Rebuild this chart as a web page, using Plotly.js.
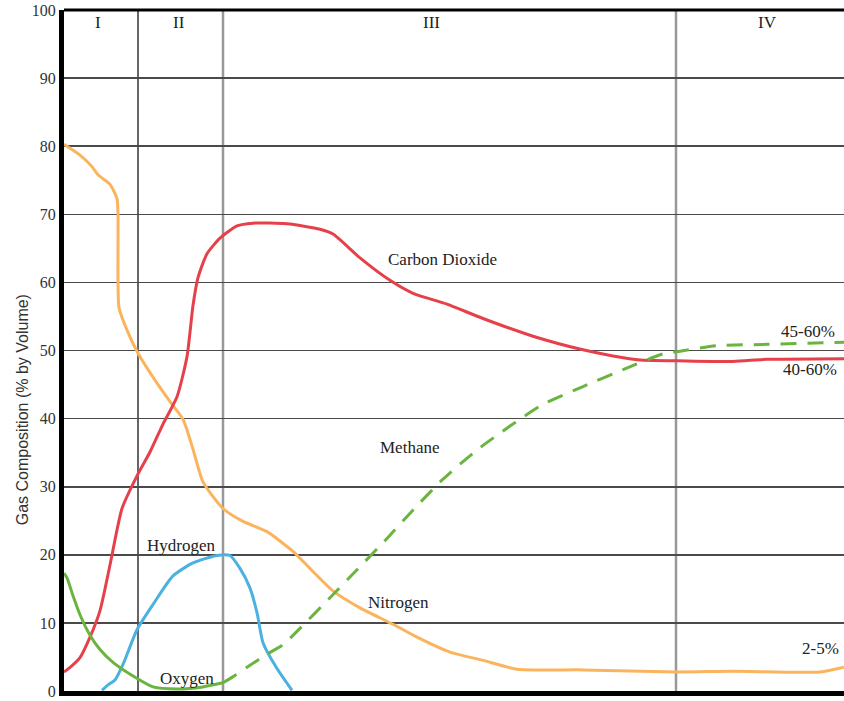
<!DOCTYPE html>
<html>
<head>
<meta charset="utf-8">
<script src="https://cdn.plot.ly/plotly-3.0.1.min.js"></script>
<style>html,body{margin:0;padding:0;background:#fff;}#chart{width:844px;height:701px;}</style>
</head>
<body>
<div id="chart"></div>
<script>
// Time axis (arbitrary units across phases)
const nitrogenX = [0,16,28,34,46,53,54,54,55,63,74,89,106,119,129,139,159,179,203,229,246,269,296,329,353,386,419,453,519,613,669,756,780];
const nitrogenY = [80.3,78.7,77.0,75.8,74.4,72.3,70.0,60.3,56.3,53.0,49.6,46.1,42.5,39.9,35.5,30.7,26.8,24.9,23.4,20.5,18.0,14.7,12.2,9.8,7.9,5.7,4.5,3.2,3.1,2.8,2.9,2.8,3.5];

const co2X = [0,3,16,26,36,46,58,73,86,99,113,123,129,134,143,156,173,189,223,256,269,296,326,349,383,419,469,519,549,576,613,669,703,780];
const co2Y = [2.8,3.1,4.9,7.9,11.8,18.5,26.8,31.6,35.1,39.2,43.2,49.1,56.6,60.7,64.2,66.5,68.3,68.7,68.6,67.8,67.1,63.6,60.3,58.4,56.8,54.7,52.1,50.1,49.2,48.6,48.5,48.4,48.7,48.8];

const hydrogenX = [38,44,51,59,73,89,109,129,153,166,176,186,193,199,213,228];
const hydrogenY = [0.1,0.9,1.6,3.9,9.0,12.7,16.9,18.8,19.9,19.9,18.0,15.1,11.5,7.1,3.3,0.1];

const oxygenX = [0,3,9,16,26,36,49,69,89,113,139,159];
const oxygenY = [17.3,16.6,14.0,11.2,8.2,6.1,4.2,2.2,0.6,0.3,0.6,1.2];

const methaneX = [159,168,183,203,219,236,266,293,323,353,379,413,446,479,519,559,599,616,653,703,780];
const methaneY = [1.2,2.0,3.5,5.4,6.8,9.2,13.7,17.8,22.4,27.2,31.1,35.4,38.9,42.1,44.7,47.2,49.5,49.9,50.7,50.9,51.2];

const phaseBounds = [74, 159, 612];
const phaseNames = ['I', 'II', 'III', 'IV'];
const phaseLabelX = [34, 115, 367, 703];

const yTicks = [0,10,20,30,40,50,60,70,80,90,100];

const serif = 'Liberation Serif, Times New Roman, serif';
const txtColor = '#222';

function line(x, y, color, dash) {
  return {x: x, y: y, type: 'scatter', mode: 'lines',
    line: {color: color, width: 3, shape: 'spline', smoothing: 0.6, dash: dash || 'solid'},
    hoverinfo: 'skip', showlegend: false};
}

const data = [
  line(nitrogenX, nitrogenY, '#FBB45E'),
  line(co2X, co2Y, '#E6404A'),
  line(hydrogenX, hydrogenY, '#4AB1E0'),
  line(oxygenX, oxygenY, '#6AB43F'),
  line(methaneX, methaneY, '#6AB43F', '16px,11px')
];

const shapes = [];
phaseBounds.forEach((b, i) => {
  shapes.push({type: 'line', xref: 'x', yref: 'paper', x0: b, x1: b, y0: 0, y1: 1,
    line: {color: i === 0 ? '#333' : '#999', width: i === 0 ? 1.5 : 2.5}, layer: 'below'});
});
shapes.push({type: 'line', xref: 'paper', yref: 'paper', x0: 0, x1: 1, y0: 1, y1: 1,
  line: {color: '#000', width: 3}});

const annotations = [];
phaseNames.forEach((n, i) => {
  annotations.push({x: phaseLabelX[i], y: 98.1, xref: 'x', yref: 'y', text: n, showarrow: false,
    font: {family: serif, size: 17, color: txtColor}});
});
const labels = [
  ['Carbon Dioxide', 378, 63.3],
  ['Methane', 345, 35.8],
  ['Hydrogen', 117, 21.3],
  ['Nitrogen', 334, 13.0],
  ['Oxygen', 123, 1.9],
  ['45-60%', 744, 52.8],
  ['40-60%', 746, 47.2],
  ['2-5%', 756, 6.3]
];
labels.forEach(l => {
  annotations.push({x: l[1], y: l[2], xref: 'x', yref: 'y', text: l[0], showarrow: false,
    font: {family: serif, size: 17, color: txtColor}});
});
annotations.push({x: 0, xref: 'paper', xshift: -52, y: 41.3, yref: 'y', textangle: -90,
  text: 'Gas Composition (% by Volume)', showarrow: false,
  font: {family: 'Liberation Sans Narrow, Liberation Sans, Arial, sans-serif', size: 16, color: '#333'}});

const layout = {
  width: 844, height: 701,
  margin: {l: 64, r: 0, t: 10, b: 10},
  paper_bgcolor: '#fff', plot_bgcolor: '#fff',
  xaxis: {range: [0, 780], showgrid: false, zeroline: false, showticklabels: false,
    showline: true, linecolor: '#000', linewidth: 5, ticks: ''},
  yaxis: {range: [0, 100], tickvals: yTicks, ticktext: yTicks.map(String),
    showgrid: true, gridcolor: '#4a4a4a', gridwidth: 1.6, zeroline: false,
    showline: true, linecolor: '#000', linewidth: 5, ticks: '',
    ticklabeloverflow: 'allow',
    tickfont: {family: serif, size: 16, color: '#333'}},
  shapes: shapes,
  annotations: annotations
};

Plotly.newPlot('chart', data, layout, {displayModeBar: false, staticPlot: true});
</script>
</body>
</html>
